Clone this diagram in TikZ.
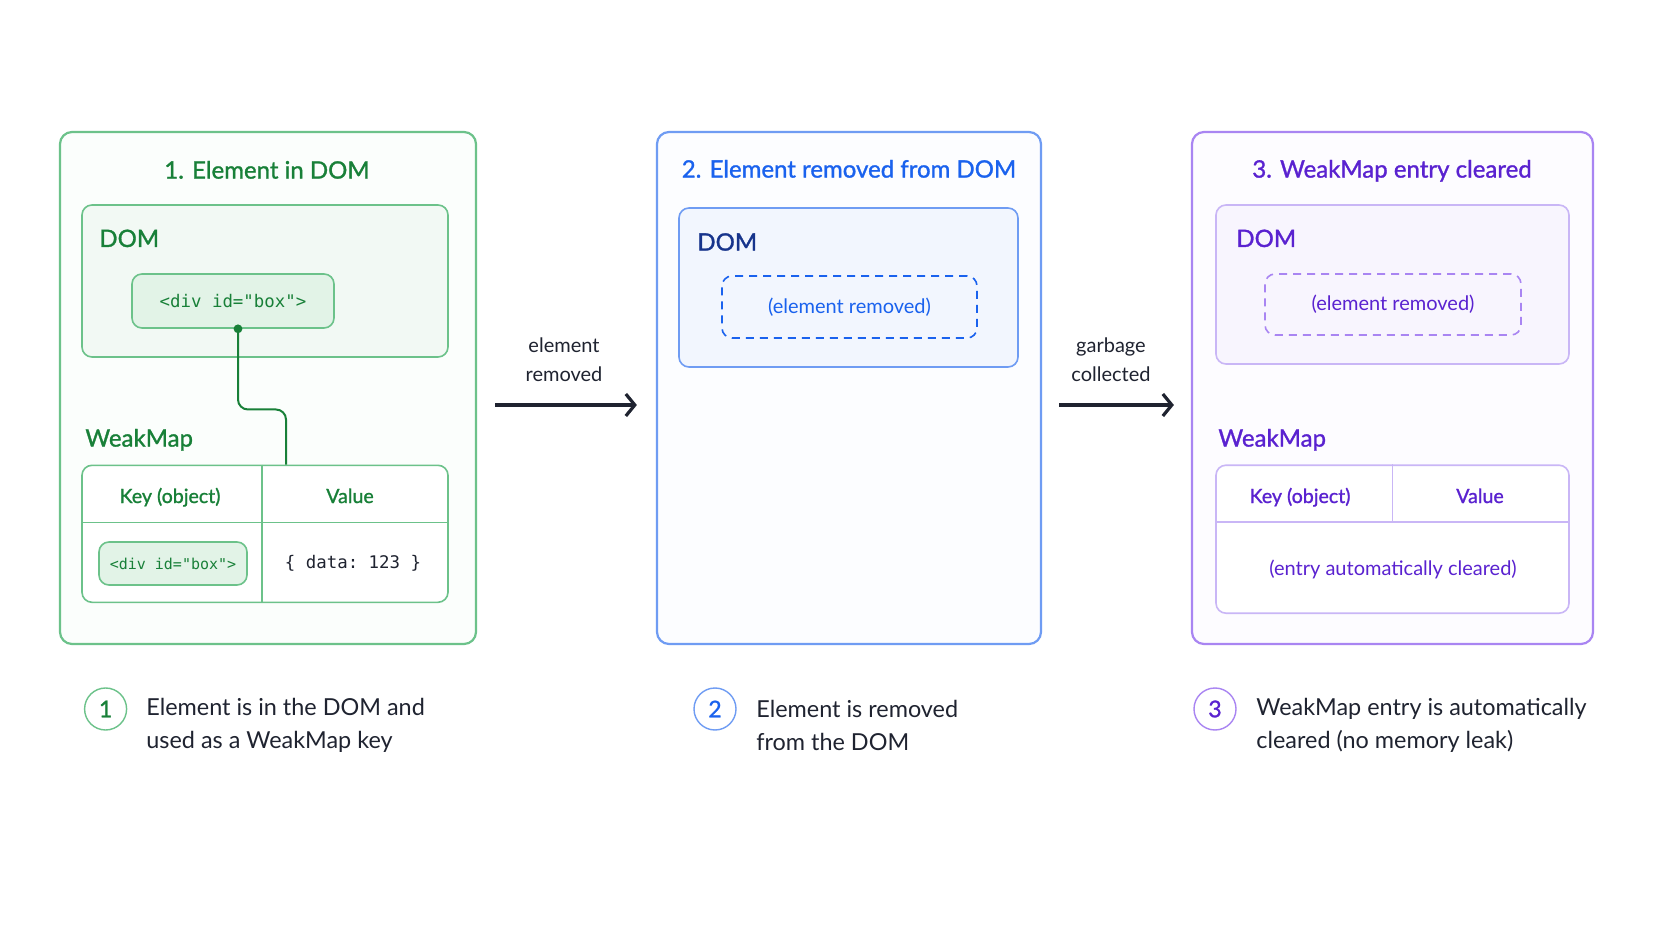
\documentclass[tikz,border=0pt]{standalone}
\usepackage{fontspec}
\setmainfont{Lato}
\setmonofont{DejaVu Sans Mono}
\newfontfamily\medium[FakeBold=1.2]{Lato}
\usetikzlibrary{arrows.meta}
\definecolor{ink}{HTML}{1F2330}
\definecolor{gdark}{HTML}{188038}
\definecolor{gline}{HTML}{6CC28A}
\definecolor{gpanel}{HTML}{FBFEFC}
\definecolor{gfill}{HTML}{F2F9F4}
\definecolor{gkey}{HTML}{E2F3E7}
\definecolor{bdark}{HTML}{1A62EE}
\definecolor{bnavy}{HTML}{17348C}
\definecolor{bline}{HTML}{6F9CF3}
\definecolor{bpanel}{HTML}{FCFDFF}
\definecolor{bfill}{HTML}{F2F6FE}
\definecolor{pdark}{HTML}{5A22D0}
\definecolor{pline}{HTML}{A985F2}
\definecolor{plight}{HTML}{C9B6F6}
\definecolor{ppanel}{HTML}{FDFCFF}
\definecolor{pfill}{HTML}{F8F5FE}
\begin{document}
\begin{tikzpicture}[x=0.5pt,y=-0.5pt,
    panel/.style={draw,line width=1.1pt,rounded corners=6pt,inner sep=0pt},
    domb/.style={draw,line width=0.8pt,rounded corners=5pt,inner sep=0pt},
    gonebox/.style={draw,dash pattern=on 4pt off 3pt,line width=0.8pt,rounded corners=5pt,inner sep=0pt,
      font=\fontsize{10}{12}\selectfont},
    title/.style={font=\medium\fontsize{12}{14}\selectfont,text height=0.75em,text depth=0.25em},
    head/.style={font=\medium\fontsize{12}{14}\selectfont,anchor=west,inner sep=0pt,
      text height=0.75em,text depth=0.25em},
    cell/.style={font=\medium\fontsize{9.8}{12}\selectfont,text height=0.75em,text depth=0.25em},
    code/.style={font=\ttfamily\fontsize{8.7}{10}\selectfont},
    flow/.style={-{Straight Barb[length=4.5pt,width=11pt]},line width=1.6pt,ink},
    note/.style={font=\fontsize{10}{14.5}\selectfont,align=center,text=ink},
    num/.style={circle,draw,line width=0.7pt,minimum size=21pt,inner sep=0pt,
      font=\medium\fontsize{11.5}{13}\selectfont},
    legend/.style={anchor=west,align=left,inner sep=0pt,font=\fontsize{11.7}{16.5}\selectfont,text=ink}]
  \useasboundingbox[fill=white] (0,0) rectangle (1672,941);

  \node[panel,draw=gline,fill=gpanel,minimum width=208pt,minimum height=256pt] (p1) at (268,388) {};
  \node[title,text=gdark] (t1) at (267,173.6) {1. Element in DOM};
  \node[domb,draw=gline,fill=gfill,minimum width=183pt,minimum height=76pt] (dom1) at (265,281) {};
  \node[head,text=gdark] (dl1) at (99,242) {DOM};
  \node[domb,draw=gline,fill=gkey,minimum width=101pt,minimum height=27pt,code,text=gdark] (div1) at (233,301) {<div id="box">};
  \node[head,text=gdark] (wl1) at (85,441.6) {WeakMap};
  \node[domb,draw=gline,fill=white,minimum width=183pt,minimum height=68.5pt] (tab1) at (265,533.8) {};
  \draw[gline,line width=0.8pt] ([yshift=-28.9pt]tab1.north west) -- ([yshift=-28.9pt]tab1.north east)
    ([xshift=-1.5pt]tab1.north) -- ([xshift=-1.5pt]tab1.south);
  \node[cell,text=gdark] (kh1) at (170,498) {Key (object)};
  \node[cell,text=gdark] (vh1) at (350,498) {Value};
  \node[domb,draw=gline,fill=gkey,minimum width=74pt,minimum height=21.5pt,code,
    font=\ttfamily\fontsize{7.5}{9}\selectfont,text=gdark] (key1) at (173,563.5) {<div id="box">};
  \node[code,text=ink] (val1) at (353,563.5) {\{ data: 123 \}};
  \coordinate (k1) at ([xshift=2.5pt]div1.south);
  \coordinate (k1b) at ([xshift=10.5pt]tab1.north);
  \draw[gdark,line width=1pt,rounded corners=5pt] (k1) |- ([yshift=27.5pt]k1b) -- (k1b);
  \fill[gdark] (k1) circle (2.2pt);

  \node[panel,draw=bline,fill=bpanel,minimum width=192pt,minimum height=256pt] (p2) at (849,388) {};
  \node[title,text=bdark] (t2) at (849,172.6) {2. Element removed from DOM};
  \node[domb,draw=bline,fill=bfill,minimum width=169.5pt,minimum height=79.5pt] (dom2) at (848.5,287.5) {};
  \node[head,text=bnavy] (dl2) at (697,245.6) {DOM};
  \node[gonebox,draw=bdark,text=bdark,minimum width=127.5pt,minimum height=31pt] (gone2) at (849.5,307) {(element removed)};

  \node[panel,draw=pline,fill=ppanel,minimum width=200.5pt,minimum height=256pt] (p3) at (1392.5,388) {};
  \node[title,text=pdark] (t3) at (1392,172.6) {3. WeakMap entry cleared};
  \node[domb,draw=plight,fill=pfill,minimum width=176.5pt,minimum height=79.5pt] (dom3) at (1392.5,284.5) {};
  \node[head,text=pdark] (dl3) at (1236,242) {DOM};
  \node[gonebox,draw=pline,text=pdark,minimum width=128pt,minimum height=30.5pt] (gone3) at (1393,304.5) {(element removed)};
  \node[head,text=pdark] (wl3) at (1218,441.6) {WeakMap};
  \node[domb,draw=plight,fill=white,minimum width=176.5pt,minimum height=74pt] (tab3) at (1392.5,539.2) {};
  \coordinate (h3) at ([yshift=-28.9pt]tab3.north);
  \draw[plight,line width=0.8pt] (h3 -| tab3.west) -- (h3 -| tab3.east) (tab3.north) -- (h3);
  \node[cell,text=pdark] (kh3) at (1300,498) {Key (object)};
  \node[cell,text=pdark] (vh3) at (1480,498) {Value};
  \node[cell,text=pdark,font=\fontsize{10}{12}\selectfont] (e3) at (1393,570) {(entry automatically cleared)};

  \draw[flow,shorten <=9pt,shorten >=9.5pt] ([yshift=-8.5pt]p1.east) -- ([yshift=-8.5pt]p2.west);
  \draw[flow,shorten <=8.5pt,shorten >=8.5pt] ([yshift=-8.5pt]p2.east) -- ([yshift=-8.5pt]p3.west);
  \node[note] (a1) at (564,359.5) {element\\removed};
  \node[note] (a2) at (1111,359.5) {garbage\\collected};

  \foreach \i/\cx/\tx/\ring/\dk/\txt in {1/105.6/146/gline/gdark/{Element is in the DOM and\\used as a WeakMap key},
      2/715/756/bline/bdark/{Element is removed\\from the DOM},
      3/1215/1256/pline/pdark/{WeakMap entry is automatically\\cleared (no memory leak)}}
  {
    \node[num,draw=\ring,text=\dk] (n\i) at (\cx,709) {\i};
    \node[legend] (l\i) at (\tx,725) {\txt};
  }
\end{tikzpicture}
\end{document}
